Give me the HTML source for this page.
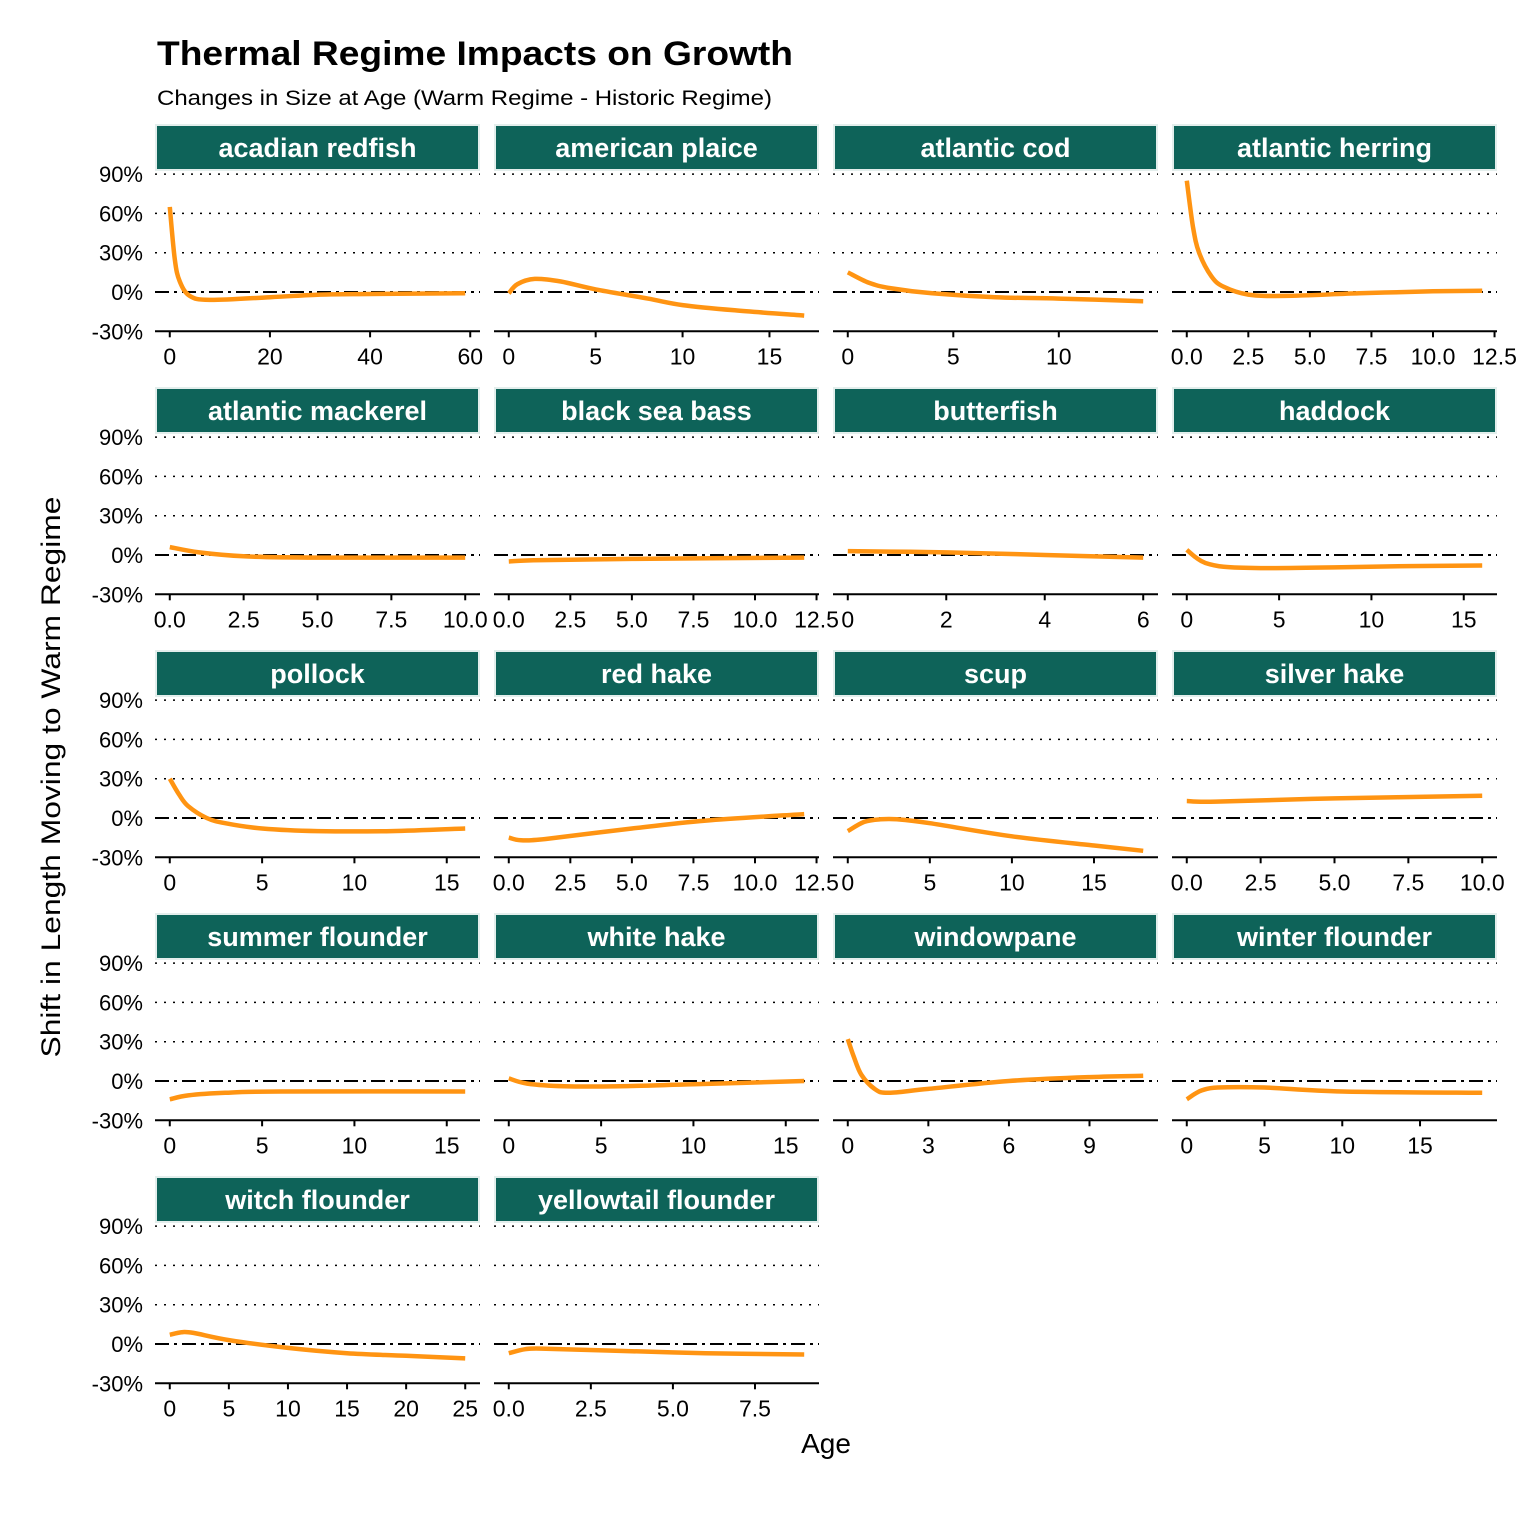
<!DOCTYPE html>
<html><head><meta charset="utf-8"><style>
html,body{margin:0;padding:0;background:#fff}
svg{display:block;font-family:"Liberation Sans",Arial,sans-serif}
</style></head><body>
<svg id="chart" width="1536" height="1536" viewBox="0 0 1536 1536">
<text x="157" y="65" font-size="34" font-weight="bold" fill="#000" textLength="636" lengthAdjust="spacingAndGlyphs">Thermal Regime Impacts on Growth</text>
<text x="157" y="105" font-size="21" fill="#000" textLength="615" lengthAdjust="spacingAndGlyphs">Changes in Size at Age (Warm Regime - Historic Regime)</text>
<text transform="translate(60,777) rotate(-90)" text-anchor="middle" font-size="27" fill="#000" textLength="561" lengthAdjust="spacingAndGlyphs">Shift in Length Moving to Warm Regime</text>
<text x="826" y="1453" text-anchor="middle" font-size="28" fill="#000">Age</text>
<g id="panels"></g>
</svg>
<script>
const species = ["acadian redfish","american plaice","atlantic cod","atlantic herring","atlantic mackerel","black sea bass","butterfish","haddock","pollock","red hake","scup","silver hake","summer flounder","white hake","windowpane","winter flounder","witch flounder","yellowtail flounder"];
const ages = [
 [0,1,2,4,8,20,30,40,59],
 [0,0.5,1.5,3,5,8,10,13,17],
 [0,1,2,4,7,10,14],
 [0,0.25,0.5,1,1.5,2.5,4,7,10,12],
 [0,1,2.5,5,10],
 [0,1,5,12],
 [0,2,4,6],
 [0,0.5,1,2,4,8,12,16],
 [0,0.5,1,2,3,5,8,12,16],
 [0,0.5,1.5,5,8,12],
 [0,1,2,3,5,10,15,18],
 [0,1,5,10],
 [0,1,3,6,16],
 [0,1,3,6,10,16],
 [0,0.2,0.5,1,1.5,3,6,9,11],
 [0,0.5,1,2,5,10,19],
 [0,1,2,5,10,15,20,25],
 [0,0.5,1,3,6,9]
];
const shifts = [
 [65,25,8,-3,-6,-4,-2,-1.5,-1],
 [-1,6,10,8,2,-5,-10,-14,-18],
 [15,7,3,-1,-4,-5,-7],
 [85,50,30,12,4,-2,-3,-1,0.5,1],
 [6,2,-1,-2,-2],
 [-5,-4,-3,-2],
 [3,2,0,-2],
 [4,-2,-6,-9,-10,-9.5,-8.5,-8],
 [30,18,9,0,-4,-8,-10,-10,-8],
 [-15,-17,-16,-8,-2,3],
 [-10,-3,-1,-1,-4,-14,-21,-25],
 [13,12.5,15,17],
 [-14,-11,-9,-8,-8],
 [2,-2,-4,-4,-2.5,0],
 [32,20,5,-6,-9,-6,0,3,4],
 [-14,-10,-7,-5,-5,-8,-9],
 [7,9,8.5,3,-3,-7,-9,-11],
 [-7,-4,-3.5,-5,-7,-8]
];
const xTicks = [
 [0,20,40,60],[0,5,10,15],[0,5,10],[0,2.5,5,7.5,10,12.5],
 [0,2.5,5,7.5,10],[0,2.5,5,7.5,10,12.5],[0,2,4,6],[0,5,10,15],
 [0,5,10,15],[0,2.5,5,7.5,10,12.5],[0,5,10,15],[0,2.5,5,7.5,10],
 [0,5,10,15],[0,5,10,15],[0,3,6,9],[0,5,10,15],
 [0,5,10,15,20,25],[0,2.5,5,7.5]
];
const xTickDecimals = [0,0,0,1, 1,1,0,0, 0,1,0,1, 0,0,0,0, 0,1];
const yTicks = [-30,0,30,60,90];
const yTickLabels = ["-30%","0%","30%","60%","90%"];

const NS="http://www.w3.org/2000/svg";
const root=document.getElementById('panels');
function mk(tag,attrs,parent){const e=document.createElementNS(NS,tag);for(const k in attrs)e.setAttribute(k,attrs[k]);(parent||root).appendChild(e);return e;}
function spline(pts){let d=`M${pts[0][0].toFixed(1)},${pts[0][1].toFixed(1)}`;
 for(let i=0;i<pts.length-1;i++){const p0=pts[Math.max(0,i-1)],p1=pts[i],p2=pts[i+1],p3=pts[Math.min(pts.length-1,i+2)];
  const c1=[p1[0]+(p2[0]-p0[0])/6,p1[1]+(p2[1]-p0[1])/6],c2=[p2[0]-(p3[0]-p1[0])/6,p2[1]-(p3[1]-p1[1])/6];
  d+=` C${c1[0].toFixed(1)},${c1[1].toFixed(1)} ${c2[0].toFixed(1)},${c2[1].toFixed(1)} ${p2[0].toFixed(1)},${p2[1].toFixed(1)}`;}
 return d;}

species.forEach((name,i)=>{
 const col=i%4,row=Math.floor(i/4);
 const L=155+col*339,W=325;
 const top=row*263;
 const yScale=v=>292+top-(v)*(39.3/30);
 const a=ages[i],s=shifts[i];
 const mn=Math.min(...a),mx=Math.max(...a),w=mx-mn||1;
 const xScale=v=>L+W*((v-mn)+0.05*w)/(1.1*w);
 const g=mk('g',{});
 
 
 const st=mk('rect',{x:L+1,y:125+top,width:W-2,height:45,fill:'#0e6359',stroke:'#e3eeec','stroke-width':2},g);
 
 
 const stt=mk('text',{x:L+W/2,y:157+top,'text-anchor':'middle','font-size':27,'font-weight':'bold',fill:'#fff'},g);
 stt.textContent=name;
 
 
 yTicks.forEach((t,k)=>{
  const y=yScale(t);
  if(t===0){const z=mk('line',{x1:L,x2:L+W,y1:y,y2:y,stroke:'#000','stroke-width':2,'stroke-dasharray':'14 5 3 5'},g);
   }
  else if(t===-30){const ax=mk('line',{x1:L,x2:L+W,y1:y,y2:y,stroke:'#000','stroke-width':2},g);
   }
  else {const gl=mk('line',{x1:L,x2:L+W,y1:y,y2:y,stroke:'#000','stroke-width':1.5,'stroke-dasharray':'2 7'},g);
   }
  if(col===0){const tl=mk('text',{x:143,y:y+8,'text-anchor':'end','font-size':22,fill:'#000'},g);
   tl.textContent=yTickLabels[k];
   }
 });
 xTicks[i].forEach(t=>{
  const x=xScale(t),yb=yScale(-30);
  const tk=mk('line',{x1:x,x2:x,y1:yb,y2:yb+6,stroke:'#000','stroke-width':2},g);
  
  const tl=mk('text',{x:x,y:yb+33,'text-anchor':'middle','font-size':23,fill:'#000'},g);
  tl.textContent=t.toFixed(xTickDecimals[i]);
  
 });
 const pts=a.map((v,k)=>[xScale(v),yScale(s[k])]);
 const p=mk('path',{d:spline(pts),fill:'none',stroke:'#ff9412','stroke-width':4.5,'stroke-linecap':'butt','stroke-linejoin':'round'},g);
 
 
});
</script>
</body></html>
